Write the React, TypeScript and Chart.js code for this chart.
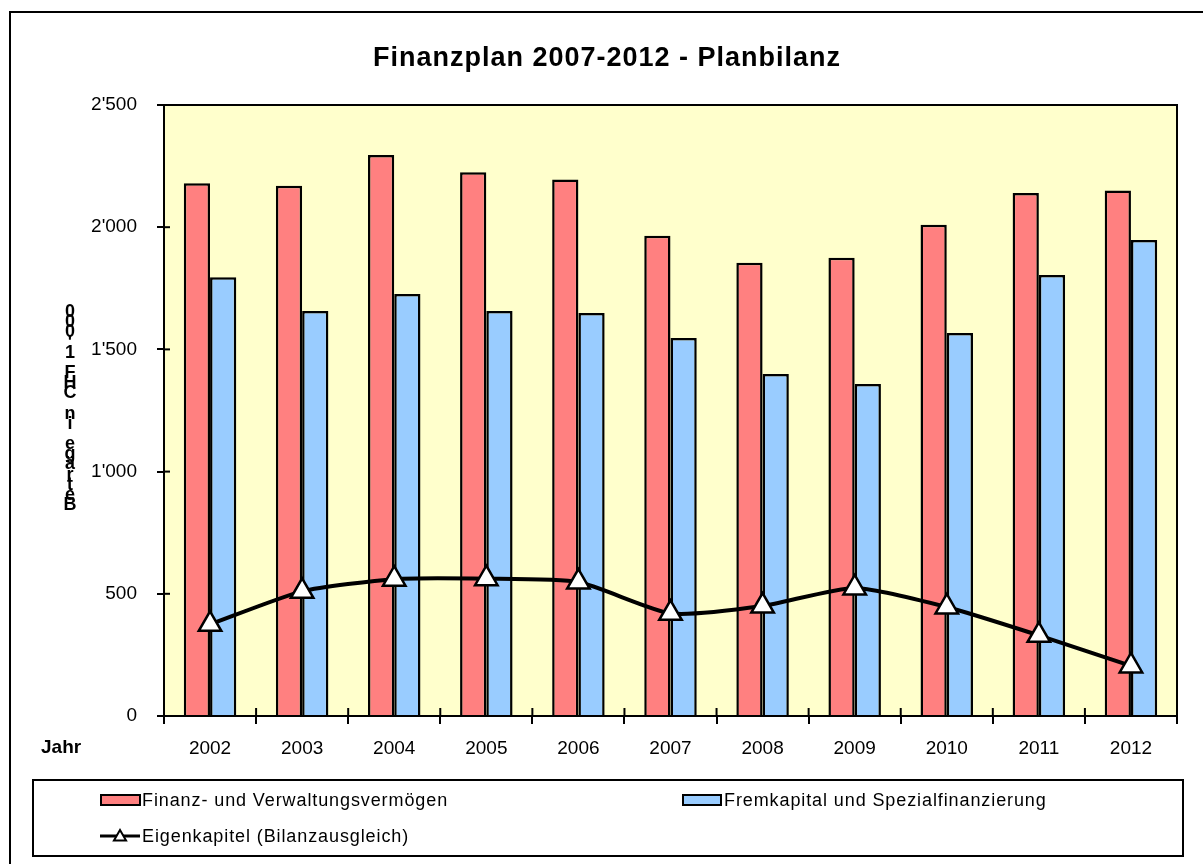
import React, { useEffect, useRef } from 'react';
import { Chart, registerables } from 'chart.js';

Chart.register(...registerables);

const categories = ['2002', '2003', '2004', '2005', '2006', '2007', '2008', '2009', '2010', '2011', '2012'];
const finanzVermoegen = [2180, 2170, 2295, 2225, 2195, 1965, 1855, 1875, 2010, 2140, 2150];
const fremdkapital = [1795, 1657, 1727, 1657, 1649, 1547, 1399, 1358, 1567, 1804, 1948];
const eigenkapital = [375, 510, 560, 562, 548, 420, 450, 524, 446, 330, 205];
const yTicks = [0, 500, 1000, 1500, 2000, 2500];

const TITLE = 'Finanzplan 2007-2012 - Planbilanz';
const Y_LABEL = "Beträge in CHF 1'000";
const X_LABEL = 'Jahr';
const SERIES_NAMES = ['Finanz- und Verwaltungsvermögen', 'Fremkapital und Spezialfinanzierung', 'Eigenkapitel (Bilanzausgleich)'];

const RED = '#FF8080';
const BLUE = '#99CCFF';
const YELLOW = '#FFFFCC';
const FONT = '"Liberation Sans", Arial, sans-serif';

function fmt(v: number) {
  const s = String(Math.round(v));
  return s.replace(/\B(?=(\d{3})+(?!\d))/g, "'");
}

function drawTriangle(ctx: CanvasRenderingContext2D, x: number, y: number, r: number) {
  ctx.beginPath();
  for (let i = 0; i < 3; i++) {
    const a = (i * 2 * Math.PI) / 3;
    const px = x + Math.sin(a) * r;
    const py = y - Math.cos(a) * r;
    if (i === 0) ctx.moveTo(px, py); else ctx.lineTo(px, py);
  }
  ctx.closePath();
  ctx.fillStyle = '#fff';
  ctx.fill();
  ctx.lineWidth = 2;
  ctx.strokeStyle = '#000';
  ctx.stroke();
}

const decorPlugin = {
  id: 'decor',
  beforeDraw(chart: any) {
    const { ctx, chartArea: a } = chart;
    ctx.save();
    ctx.fillStyle = '#fff';
    ctx.fillRect(0, 0, chart.width, chart.height);
    ctx.fillStyle = YELLOW;
    ctx.fillRect(a.left, a.top, a.right - a.left, a.bottom - a.top);
    ctx.restore();
  },
  afterDraw(chart: any) {
    const { ctx, chartArea: a } = chart;
    ctx.save();
    // outer frame
    ctx.strokeStyle = '#000';
    ctx.lineWidth = 2;
    ctx.strokeRect(10, 12, 1220, 880);
    // plot top/right border
    ctx.beginPath();
    ctx.moveTo(a.left, a.top);
    ctx.lineTo(a.right, a.top);
    ctx.lineTo(a.right, a.bottom);
    ctx.stroke();
    // inner cross ticks
    const ys = chart.scales.y;
    yTicks.forEach((v) => {
      const py = ys.getPixelForValue(v);
      ctx.beginPath();
      ctx.moveTo(a.left, py);
      ctx.lineTo(a.left + 6, py);
      ctx.stroke();
    });
    const xs = chart.scales.x;
    const n = categories.length;
    for (let i = 1; i < n; i++) {
      const px = (xs.getPixelForValue(i - 1) + xs.getPixelForValue(i)) / 2;
      ctx.beginPath();
      ctx.moveTo(px, a.bottom);
      ctx.lineTo(px, a.bottom - 8);
      ctx.stroke();
    }
    // title
    ctx.fillStyle = '#000';
    ctx.font = `bold 27px ${FONT}`;
    (ctx as any).letterSpacing = '1px';
    ctx.textAlign = 'center';
    ctx.textBaseline = 'middle';
    ctx.fillText(TITLE, 607, 59);
    (ctx as any).letterSpacing = '0px';
    // x label
    ctx.font = `bold 19px ${FONT}`;
    ctx.textAlign = 'left';
    ctx.fillText(X_LABEL, 41, 748);
    // y label stacked
    ctx.font = `bold 18px ${FONT}`;
    ctx.textAlign = 'center';
    const chars = Array.from(Y_LABEL);
    chars.forEach((c, i) => {
      ctx.fillText(c, 70, 505 - i * 10.15);
    });
    // legend
    ctx.lineWidth = 2;
    ctx.strokeRect(33, 780, 1150, 76);
    ctx.font = `18px ${FONT}`;
    (ctx as any).letterSpacing = '0.9px';
    ctx.textAlign = 'left';
    ctx.fillStyle = RED;
    ctx.fillRect(101, 795, 39, 10);
    ctx.strokeRect(101, 795, 39, 10);
    ctx.fillStyle = '#000';
    ctx.fillText(SERIES_NAMES[0], 142, 801);
    ctx.fillStyle = BLUE;
    ctx.fillRect(683, 795, 38, 10);
    ctx.strokeRect(683, 795, 38, 10);
    ctx.fillStyle = '#000';
    ctx.fillText(SERIES_NAMES[1], 724, 801);
    ctx.lineWidth = 3;
    ctx.beginPath();
    ctx.moveTo(100, 836);
    ctx.lineTo(140, 836);
    ctx.stroke();
    drawTriangle(ctx, 120, 837, 7);
    ctx.fillStyle = '#000';
    ctx.fillText(SERIES_NAMES[2], 142, 837);
    ctx.restore();
  },
};

export default function App() {
  const ref = useRef<HTMLCanvasElement>(null);
  useEffect(() => {
    if (!ref.current) return;
    const chart = new Chart(ref.current, {
      type: 'bar',
      data: {
        labels: categories,
        datasets: [
          {
            type: 'line',
            label: SERIES_NAMES[2],
            data: eigenkapital,
            borderColor: '#000',
            borderWidth: 4,
            tension: 0.2,
            pointStyle: 'triangle',
            pointRadius: 13,
            pointBackgroundColor: '#fff',
            pointBorderColor: '#000',
            pointBorderWidth: 2.5,
            order: 0,
          } as any,
          {
            label: SERIES_NAMES[0],
            data: finanzVermoegen,
            backgroundColor: RED,
            borderColor: '#000',
            borderWidth: 2.5,
            categoryPercentage: 0.57,
            barPercentage: 1,
            order: 1,
          },
          {
            label: SERIES_NAMES[1],
            data: fremdkapital,
            backgroundColor: BLUE,
            borderColor: '#000',
            borderWidth: 2.5,
            categoryPercentage: 0.57,
            barPercentage: 1,
            order: 1,
          },
        ],
      },
      options: {
        responsive: false,
        animation: false,
        devicePixelRatio: 1,
        layout: { padding: { left: 44, right: 26, top: 105, bottom: 98 } },
        plugins: { legend: { display: false }, tooltip: { enabled: false }, title: { display: false } },
        scales: {
          x: {
            afterFit: (s: any) => { s.height = 50; },
            grid: { offset: true, drawOnChartArea: false, tickLength: 8, color: '#000', lineWidth: 2 },
            border: { display: true, color: '#000', width: 2 },
            ticks: { color: '#000', font: { family: FONT, size: 19 }, padding: 13 },
          },
          y: {
            min: 0,
            max: 2500,
            afterFit: (s: any) => { s.width = 120; },
            afterBuildTicks: (s: any) => { s.ticks = yTicks.map((v) => ({ value: v })); },
            grid: { drawOnChartArea: false, tickLength: 7, color: '#000', lineWidth: 2 },
            border: { display: true, color: '#000', width: 2 },
            ticks: {
              color: '#000',
              font: { family: FONT, size: 19 },
              padding: 20,
              callback: (v: any) => fmt(Number(v)),
            },
          },
        },
      },
      plugins: [decorPlugin],
    });
    return () => chart.destroy();
  }, []);
  return (
    <div style={{ position: 'absolute', left: 0, top: 0, width: 1203, height: 864 }}>
      <canvas ref={ref} width={1203} height={864} style={{ width: 1203, height: 864, display: 'block' }} />
    </div>
  );
}
